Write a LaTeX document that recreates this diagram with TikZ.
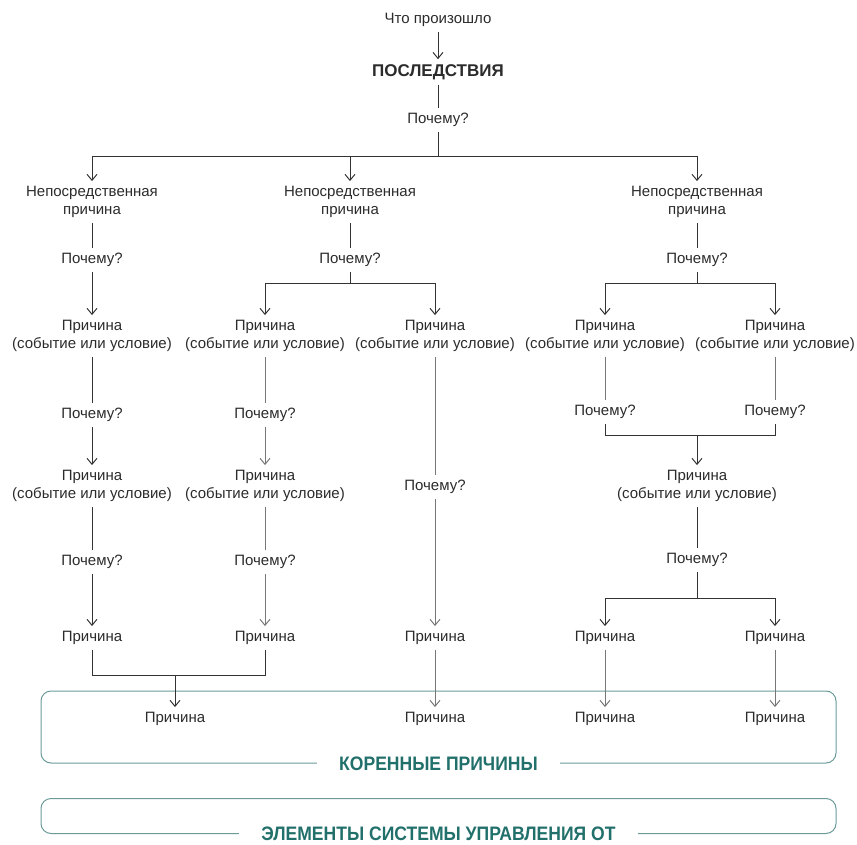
\documentclass[tikz,border=0pt]{standalone}
\usepackage{fontspec}
\setmainfont{Liberation Sans}
\newfontfamily\condfont[FakeStretch=0.9]{Liberation Sans}
\usetikzlibrary{arrows.meta}
\definecolor{inkgrey}{HTML}{2B2B2B}
\definecolor{linegrey}{HTML}{333333}
\definecolor{softgrey}{HTML}{777777}
\definecolor{rootteal}{HTML}{22706B}
\definecolor{boxteal}{HTML}{6A9B99}

\begin{document}
\begin{tikzpicture}
[every node/.style={inner sep=0pt},
 >={Straight Barb[length=6pt,width=10pt]},
 lbl/.style={font=\fontsize{15}{18}\selectfont, align=center, inner ysep=5pt, text=inkgrey},
 lnk/.style={line width=1pt, color=linegrey},
 lnkg/.style={line width=1pt, color=softgrey},
 frame/.style={draw=boxteal, line width=1pt, rounded corners=10pt, minimum width=795pt},
 framelbl/.style={font=\condfont\bfseries\fontsize{19.5}{20}\selectfont, text=rootteal, fill=white, inner xsep=22pt, inner ysep=1pt}]
\useasboundingbox (0pt,0pt) rectangle (857pt,-845pt);
% top of the tree
\node (what) [lbl] at (438pt, -20pt) {Что произошло};
\node (cons) [lbl, font=\bfseries\fontsize{17}{18}\selectfont] at (438pt, -72pt) {ПОСЛЕДСТВИЯ};
\node (why0) [lbl] at (438pt, -120pt) {Почему?};
\coordinate (s0) at (438pt, -157pt);
\node (imm1) [lbl] at (92pt, -202pt) {Непосредственная\\причина};
\node (imm2) [lbl] at (350pt, -202pt) {Непосредственная\\причина};
\node (imm3) [lbl] at (697pt, -202pt) {Непосредственная\\причина};
\node (why1) [lbl] at (92pt, -260pt) {Почему?};
\node (why2) [lbl] at (350pt, -260pt) {Почему?};
\node (why3) [lbl] at (697pt, -260pt) {Почему?};
\coordinate (s2) at (350pt, -283pt);
\coordinate (s3) at (697pt, -283pt);
% first level of causes
\node (ca1) [lbl] at (92pt, -336pt) {Причина\\(событие или условие)};
\node (cb1) [lbl] at (265pt, -336pt) {Причина\\(событие или условие)};
\node (cc1) [lbl] at (435pt, -336pt) {Причина\\(событие или условие)};
\node (cd1) [lbl] at (605pt, -336pt) {Причина\\(событие или условие)};
\node (ce1) [lbl] at (775pt, -336pt) {Причина\\(событие или условие)};
\node (whya1) [lbl] at (92pt, -415pt) {Почему?};
\node (whyb1) [lbl] at (265pt, -415pt) {Почему?};
\node (whyc1) [lbl] at (435pt, -487pt) {Почему?};
\node (whyd1) [lbl] at (605pt, -412pt) {Почему?};
\node (whye1) [lbl] at (775pt, -412pt) {Почему?};
\coordinate (s4) at (697pt, -435pt);
% second level
\node (ca2) [lbl] at (92pt, -486pt) {Причина\\(событие или условие)};
\node (cb2) [lbl] at (265pt, -486pt) {Причина\\(событие или условие)};
\node (cde2) [lbl] at (697pt, -486pt) {Причина\\(событие или условие)};
\node (whya2) [lbl] at (92pt, -562pt) {Почему?};
\node (whyb2) [lbl] at (265pt, -562pt) {Почему?};
\node (whyde2) [lbl] at (697pt, -560pt) {Почему?};
\coordinate (s5) at (697pt, -598pt);
\node (ca3) [lbl] at (92pt, -638pt) {Причина};
\node (cb3) [lbl] at (265pt, -638pt) {Причина};
\node (cc3) [lbl] at (435pt, -638pt) {Причина};
\node (cd3) [lbl] at (605pt, -638pt) {Причина};
\node (ce3) [lbl] at (775pt, -638pt) {Причина};
\coordinate (m1) at (175pt, -675pt);
% frames
\node (rootbox) [frame, minimum height=72pt] at (438.5pt, -727pt) {};
\node (ctrlbox) [frame, minimum height=35pt] at (438.5pt, -816pt) {};
\node (root1) [lbl] at (175pt, -719pt) {Причина};
\node (root2) [lbl] at (435pt, -719pt) {Причина};
\node (root3) [lbl] at (605pt, -719pt) {Причина};
\node (root4) [lbl] at (775pt, -719pt) {Причина};
\node (rootlbl) [framelbl] at (rootbox.south) {КОРЕННЫЕ ПРИЧИНЫ};
\node (ctrllbl) [framelbl] at (ctrlbox.south) {ЭЛЕМЕНТЫ СИСТЕМЫ УПРАВЛЕНИЯ ОТ};
% connectors
\draw [lnk, ->] (what) -- (cons);
\draw [lnk] (cons) -- (why0);
\draw [lnk] (why0) -- (s0);
\draw [lnk, ->] (s0) -| (imm1);
\draw [lnk, ->] (s0) -| (imm2);
\draw [lnk, ->] (s0) -| (imm3);
\draw [lnk] (imm1) -- (why1);
\draw [lnk, ->] (why1) -- (ca1);
\draw [lnk] (ca1) -- (whya1);
\draw [lnk, ->] (whya1) -- (ca2);
\draw [lnk] (ca2) -- (whya2);
\draw [lnk, ->] (whya2) -- (ca3);
\draw [lnk] (imm2) -- (why2);
\draw [lnk] (why2) -- (s2);
\draw [lnk, ->] (s2) -| (cb1);
\draw [lnk, ->] (s2) -| (cc1);
\draw [lnkg] (cb1) -- (whyb1);
\draw [lnkg, ->] (whyb1) -- (cb2);
\draw [lnkg] (cb2) -- (whyb2);
\draw [lnkg, ->] (whyb2) -- (cb3);
\draw [lnk] (ca3) |- (m1);
\draw [lnk] (cb3) |- (m1);
\draw [lnk, ->] (m1) -- (root1);
\draw [lnkg] (cc1) -- (whyc1);
\draw [lnkg, ->] (whyc1) -- (cc3);
\draw [lnkg, ->] (cc3) -- (root2);
\draw [lnk] (imm3) -- (why3);
\draw [lnk] (why3) -- (s3);
\draw [lnk, ->] (s3) -| (cd1);
\draw [lnk, ->] (s3) -| (ce1);
\draw [lnkg] (cd1) -- (whyd1);
\draw [lnkg] (ce1) -- (whye1);
\draw [lnk] (whyd1) |- (s4);
\draw [lnk] (whye1) |- (s4);
\draw [lnk, ->] (s4) -- (cde2);
\draw [lnk] (cde2) -- (whyde2);
\draw [lnk] (whyde2) -- (s5);
\draw [lnk, ->] (s5) -| (cd3);
\draw [lnk, ->] (s5) -| (ce3);
\draw [lnkg, ->] (cd3) -- (root3);
\draw [lnkg, ->] (ce3) -- (root4);
\end{tikzpicture}
\end{document}
